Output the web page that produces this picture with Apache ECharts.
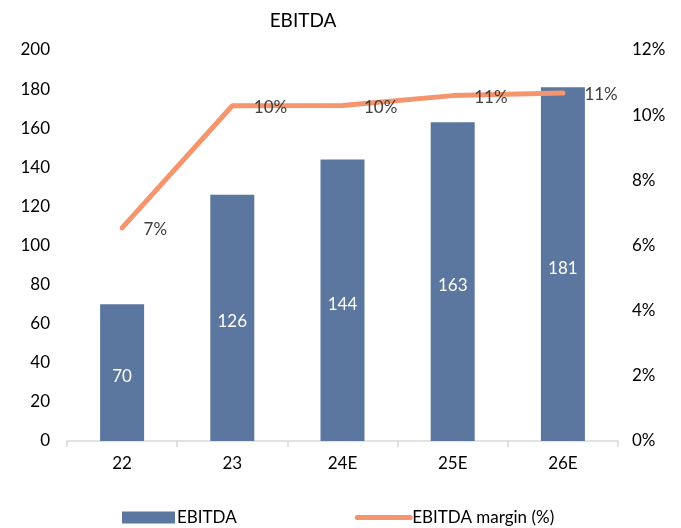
<!DOCTYPE html>
<html>
<head>
<meta charset="utf-8">
<script src="https://cdn.jsdelivr.net/npm/echarts@6/dist/echarts.min.js"></script>
<style>
  html, body { margin: 0; padding: 0; background: #fff; }
  #main { width: 681px; height: 528px; }
</style>
</head>
<body>
<div id="main"></div>
<script>
// data
var years = ['22', '23', '24E', '25E', '26E'];
var ebitda = [70, 126, 144, 163, 181];
var margin = [6.54, 10.29, 10.3, 10.6, 10.68];
var marginLabels = ['7%', '10%', '10%', '11%', '11%'];

var fontName = 'Lato';
var myChart = echarts.init(document.getElementById('main'));

var option = {
    title: {
        text: 'EBITDA',
        left: 298,
        top: 6,
        textAlign: 'center',
        textStyle: { fontFamily: fontName, fontSize: 19, fontWeight: 'normal', color: '#000' }
    },
    legend: {
        bottom: -3,
        left: 117,
        itemGap: 118,
        itemWidth: 53,
        itemHeight: 12,
        textStyle: { fontFamily: fontName, fontSize: 17, color: '#000', padding: [0, 0, 0, -3] },
        data: [
            { name: 'EBITDA', icon: 'rect' },
            {
                name: 'EBITDA margin (%)',
                itemStyle: { opacity: 0 },
                lineStyle: { width: 5, cap: 'round', color: '#f4956e' }
            }
        ]
    },
    grid: { left: 67, right: 63, top: 50, bottom: 87 },
    xAxis: {
        type: 'category',
        data: years,
        axisLine: { lineStyle: { color: '#d9d9d9', width: 1.5 } },
        axisTick: { show: true, length: 6, lineStyle: { color: '#d9d9d9', width: 1.5 } },
        axisLabel: { fontFamily: fontName, fontSize: 17, color: '#000', margin: 14 }
    },
    yAxis: [
        {
            type: 'value', min: 0, max: 200, interval: 20,
            splitLine: { show: false },
            axisLine: { show: false },
            axisLabel: { fontFamily: fontName, fontSize: 17, color: '#000', margin: 17 }
        },
        {
            type: 'value', min: 0, max: 12, interval: 2,
            splitLine: { show: false },
            axisLine: { show: false },
            axisLabel: { fontFamily: fontName, fontSize: 17, color: '#000', margin: 14, formatter: '{value}%' }
        }
    ],
    series: [
        {
            name: 'EBITDA',
            type: 'bar',
            data: ebitda,
            barWidth: 44,
            itemStyle: { color: '#5b77a0' },
            label: {
                show: true, position: 'inside', offset: [0, 4],
                color: '#fff', fontFamily: fontName, fontSize: 17
            }
        },
        {
            name: 'EBITDA margin (%)',
            type: 'line',
            yAxisIndex: 1,
            data: margin,
            symbol: 'circle',
            symbolSize: 1,
            showSymbol: true,
            lineStyle: { color: '#f4956e', width: 5, cap: 'round' },
            itemStyle: { color: '#f4956e' },
            label: {
                show: true, position: 'right', distance: 21, offset: [0, 2],
                color: '#404040', fontFamily: fontName, fontSize: 17,
                formatter: function (p) { return marginLabels[p.dataIndex]; }
            }
        }
    ]
};

myChart.setOption(option);
</script>
</body>
</html>
